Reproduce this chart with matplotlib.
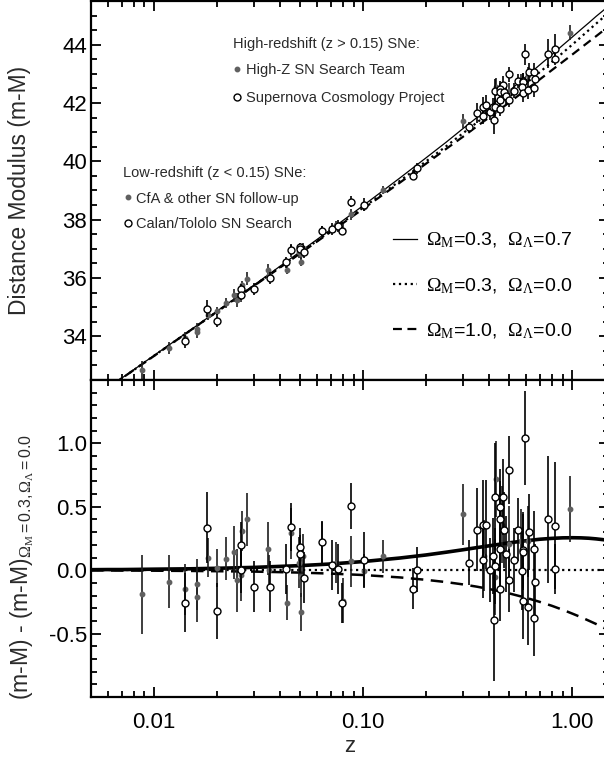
import matplotlib
matplotlib.use("Agg")
import matplotlib.pyplot as plt
from matplotlib.lines import Line2D
from matplotlib.ticker import MultipleLocator, LogLocator, NullFormatter

plt.rcParams.update({
    "font.family": ["Liberation Sans", "DejaVu Sans"],
    "mathtext.fontset": "custom",
    "mathtext.rm": "Liberation Serif",
    "mathtext.it": "Liberation Serif:italic",
    "mathtext.sf": "Liberation Sans",
    "axes.unicode_minus": False,
})

# model curves (H0 = 65)
zk = [0.005, 0.006, 0.007, 0.008, 0.01, 0.015, 0.02, 0.03, 0.05, 0.07, 0.1, 0.15, 0.2,
      0.25, 0.3, 0.35, 0.4, 0.5, 0.6, 0.7, 0.8, 0.9, 1.0, 1.1, 1.2, 1.3, 1.4, 1.5]
mu_lam = [31.82, 32.22, 32.56, 32.85, 33.34, 34.22, 34.86, 35.75, 36.90, 37.66, 38.48, 39.43, 40.12,
          40.66, 41.12, 41.50, 41.85, 42.42, 42.90, 43.31, 43.66, 43.98, 44.26, 44.52, 44.75, 44.97, 45.16, 45.35]
mu_opn = [31.82, 32.22, 32.55, 32.84, 33.33, 34.21, 34.84, 35.73, 36.86, 37.61, 38.41, 39.33, 40.00,
          40.52, 40.96, 41.33, 41.65, 42.21, 42.67, 43.06, 43.41, 43.72, 44.00, 44.26, 44.50, 44.72, 44.92, 45.12]
mu_eds = [31.82, 32.21, 32.55, 32.84, 33.32, 34.21, 34.84, 35.72, 36.84, 37.58, 38.37, 39.27, 39.92,
          40.43, 40.84, 41.20, 41.50, 42.02, 42.45, 42.81, 43.13, 43.41, 43.66, 43.89, 44.10, 44.29, 44.47, 44.64]
res_lam = [0.004, 0.005, 0.005, 0.006, 0.008, 0.011, 0.015, 0.022, 0.036, 0.049, 0.068, 0.096, 0.120,
           0.142, 0.161, 0.178, 0.192, 0.216, 0.232, 0.244, 0.251, 0.255, 0.256, 0.255, 0.252, 0.247, 0.241, 0.234]
res_eds = [-0.002, -0.002, -0.003, -0.003, -0.004, -0.006, -0.008, -0.011, -0.019, -0.027, -0.038, -0.057, -0.076,
           -0.094, -0.112, -0.130, -0.148, -0.183, -0.217, -0.250, -0.281, -0.312, -0.342, -0.370, -0.398, -0.424, -0.450, -0.475]

# low-redshift: CfA & other follow-up (filled)
cfa_z = [0.00873, 0.01176, 0.01408, 0.01607, 0.01607, 0.01808, 0.02003, 0.02205, 0.02416, 0.02484, 0.02625, 0.02611,
         0.02798, 0.03527, 0.03566, 0.04311, 0.04515, 0.04911, 0.05154, 0.05030, 0.05058, 0.06356, 0.07440, 0.07976,
         0.08750, 0.1010, 0.1245]
cfa_mu = [32.84, 33.59, 33.93, 34.25, 34.15, 34.72, 34.87, 35.15, 35.40, 35.24, 35.75, 35.39, 35.98, 36.26, 36.11,
          36.28, 36.92, 36.88, 37.04, 36.82, 36.56, 37.61, 37.80, 37.66, 38.18, 38.43, 39.02]
cfa_res = [-0.19, -0.09, -0.15, -0.11, -0.21, 0.10, 0.02, 0.09, 0.14, -0.08, 0.31, -0.04, 0.40, 0.17, 0.00, -0.255,
           0.29, 0.06, 0.115, -0.05, -0.33, 0.22, 0.06, -0.24, 0.07, -0.005, 0.11]
cfa_err = [0.31, 0.21, 0.20, 0.20, 0.20, 0.15, 0.15, 0.17, 0.21, 0.25, 0.16, 0.20, 0.21, 0.21, 0.12, 0.14, 0.20,
           0.20, 0.17, 0.16, 0.15, 0.16, 0.16, 0.18, 0.20, 0.13, 0.13]

# low-redshift: Calan/Tololo (open)
ct_z = [0.01408, 0.01800, 0.02003, 0.02602, 0.02602, 0.03012, 0.03594, 0.04287, 0.04515, 0.05019, 0.05019, 0.05228,
        0.06356, 0.07097, 0.07548, 0.07889, 0.08780, 0.1010, 0.1727, 0.1804]
ct_mu = [33.82, 34.95, 34.53, 35.62, 35.42, 35.61, 36.00, 36.53, 36.97, 37.05, 36.99, 36.90, 37.61, 37.68, 37.79,
         37.62, 38.62, 38.51, 39.51, 39.76]
ct_res = [-0.255, 0.334, -0.32, 0.20, 0.0, -0.13, -0.13, 0.01, 0.34, 0.185, 0.126, -0.06, 0.22, 0.04, 0.01, -0.26,
          0.505, 0.08, -0.145, 0.005]
ct_err = [0.23, 0.28, 0.22, 0.18, 0.18, 0.20, 0.20, 0.20, 0.19, 0.15, 0.15, 0.20, 0.17, 0.20, 0.20, 0.16, 0.18,
          0.22, 0.16, 0.18]

# high-redshift: High-Z SN Search Team (filled)
hz_z = [0.3003, 0.3777, 0.4306, 0.4259, 0.4642, 0.4976, 0.5661, 0.6164, 0.9717]
hz_mu = [41.40, 41.63, 42.55, 41.75, 42.38, 42.40, 42.75, 42.97, 44.41]
hz_res = [0.44, 0.115, 0.72, -0.055, 0.36, 0.21, 0.23, 0.23, 0.48]
hz_err = [0.24, 0.28, 0.30, 0.30, 0.30, 0.30, 0.25, 0.28, 0.26]

# high-redshift: Supernova Cosmology Project (open)
scp_z = [0.3215, 0.3523, 0.3736, 0.3879, 0.3736, 0.4036, 0.4190, 0.4296, 0.4296, 0.4657, 0.4540, 0.4540, 0.4709,
         0.4250, 0.4505, 0.4505, 0.4836, 0.4960, 0.4976, 0.5282, 0.5495, 0.5806, 0.5806, 0.5723, 0.5806, 0.5916,
         0.6231, 0.6164, 0.6555, 0.6605, 0.6555, 0.7625, 0.8299, 0.8299]
scp_mu = [41.18, 41.66, 41.85, 41.94, 41.57, 41.68, 41.88, 41.86, 42.41, 42.61, 42.47, 42.37, 42.38, 41.41, 42.11,
          41.80, 42.25, 42.11, 42.98, 42.42, 42.76, 42.74, 42.72, 42.54, 42.34, 43.67, 43.06, 42.45, 43.06, 42.82,
          42.51, 43.69, 43.86, 43.52]
scp_res = [0.06, 0.32, 0.36, 0.36, 0.08, 0.0, 0.11, 0.03, 0.58, 0.58, 0.50, 0.40, 0.32, -0.39, 0.165, -0.15, 0.13,
           -0.08, 0.79, 0.08, 0.32, 0.16, 0.14, -0.01, -0.24, 1.04, 0.30, -0.29, 0.17, -0.09, -0.38, 0.40, 0.35, 0.01]
scp_err = [0.18, 0.33, 0.35, 0.35, 0.30, 0.25, 0.30, 0.30, 0.42, 0.30, 0.30, 0.30, 0.30, 0.48, 0.30, 0.25, 0.30,
           0.25, 0.27, 0.25, 0.25, 0.30, 0.30, 0.30, 0.30, 0.37, 0.30, 0.30, 0.30, 0.30, 0.30, 0.50, 0.50, 0.20]

GRAY = "#606060"
TXT = "#2a2a2a"


def filled(ax, z, y, e):
    ax.errorbar(z, y, yerr=e, fmt="o", ms=3.2, mfc=GRAY, mec=GRAY, ecolor="#1e1e1e",
                elinewidth=1.2, capsize=0, zorder=3)


def hollow(ax, z, y, e):
    ax.errorbar(z, y, yerr=e, fmt="o", ms=5.0, mfc="white", mec="black", mew=1.0,
                ecolor="black", elinewidth=1.2, capsize=0, zorder=4)


fig = plt.figure(figsize=(6.04, 7.63), dpi=100)
ax1 = fig.add_axes([0.1507, 0.5020, 0.8576, 0.4967])
ax2 = fig.add_axes([0.1507, 0.0865, 0.8576, 0.4155], sharex=ax1)

# upper: Hubble diagram
l_lam, = ax1.plot(zk, mu_lam, "-", color="black", lw=0.9, zorder=2)
l_opn, = ax1.plot(zk, mu_opn, ":", color="black", lw=1.6, zorder=2)
l_eds, = ax1.plot(zk, mu_eds, "--", color="black", lw=1.6, dashes=(4, 2.5), zorder=2)
filled(ax1, cfa_z, cfa_mu, cfa_err)
hollow(ax1, ct_z, ct_mu, ct_err)
filled(ax1, hz_z, hz_mu, hz_err)
hollow(ax1, scp_z, scp_mu, scp_err)

# lower: residuals from the Omega_M=0.3, Omega_L=0 model
ax2.plot(zk, res_lam, "-", color="black", lw=2.6, zorder=2)
ax2.axhline(0.0, ls=":", color="black", lw=1.6, zorder=2)
ax2.plot(zk, res_eds, "--", color="black", lw=1.8, dashes=(5, 3), zorder=2)
filled(ax2, cfa_z, cfa_res, cfa_err)
hollow(ax2, ct_z, ct_res, ct_err)
filled(ax2, hz_z, hz_res, hz_err)
hollow(ax2, scp_z, scp_res, scp_err)

ax1.set_xscale("log")
ax1.set_xlim(0.005, 1.5)
ax1.set_ylim(32.5, 45.5)
ax2.set_ylim(-1.0, 1.5)

ax2.set_xticks([0.01, 0.1, 1.0])
ax2.set_xticklabels(["0.01", "0.10", "1.00"])
ax2.xaxis.set_minor_locator(LogLocator(base=10, subs=range(2, 10)))
ax2.xaxis.set_minor_formatter(NullFormatter())
ax1.yaxis.set_major_locator(MultipleLocator(2))
ax1.yaxis.set_minor_locator(MultipleLocator(0.5))
ax2.set_yticks([-0.5, 0.0, 0.5, 1.0])
ax2.set_yticklabels(["-0.5", "0.0", "0.5", "1.0"])
ax2.yaxis.set_minor_locator(MultipleLocator(0.1))

for ax in (ax1, ax2):
    ax.tick_params(which="both", direction="in", top=True, right=True, width=1.3,
                   labelsize=16, pad=3)
    ax.tick_params(which="major", length=7)
    ax.tick_params(which="minor", length=4)
    for s in ax.spines.values():
        s.set_linewidth(1.6)
ax1.tick_params(labelbottom=False)
ax2.tick_params(axis="x", pad=11)

ax1.set_ylabel("Distance Modulus (m-M)", fontsize=16.5, color=TXT)
ax1.yaxis.set_label_coords(-0.116, 0.50)
ax2.set_ylabel(r"(m-M) - (m-M)$_{\Omega_{\rm M}\mathsf{=0.3,}\Omega_\Lambda\mathsf{=0.0}}$",
               fontsize=16.5, color=TXT)
ax2.yaxis.set_label_coords(-0.107, 0.41)
ax2.set_xlabel("z", fontsize=16, color=TXT, labelpad=2)

# sample legends
h_dot = Line2D([], [], ls="none", marker="o", ms=3.2, mfc=GRAY, mec=GRAY)
h_ring = Line2D([], [], ls="none", marker="o", ms=5.0, mfc="white", mec="black", mew=1.0)
kw = dict(frameon=False, fontsize=10.5, title_fontsize=10.5, alignment="left", handlelength=0.6,
          handletextpad=0.3, borderpad=0, borderaxespad=0, loc="upper left")
leg_hi = ax1.legend([h_dot, h_ring], ["High-Z SN Search Team", "Supernova Cosmology Project"],
                    title="High-redshift (z > 0.15) SNe:", bbox_to_anchor=(0.274, 0.905),
                    labelspacing=0.92, **kw)
leg_hi._legend_box.sep = 9
ax1.add_artist(leg_hi)
leg_lo = ax1.legend([h_dot, h_ring], ["CfA & other SN follow-up", "Calan/Tololo SN Search"],
                    title="Low-redshift (z < 0.15) SNe:", bbox_to_anchor=(0.062, 0.565),
                    labelspacing=0.8, **kw)
ax1.add_artist(leg_lo)
for lg in (leg_hi, leg_lo):
    lg.get_title().set_color(TXT)
    for t in lg.get_texts():
        t.set_color(TXT)

ax1.legend([l_lam, l_opn, l_eds],
           [r"$\Omega_{\rm M}$=0.3,  $\Omega_\Lambda$=0.7",
            r"$\Omega_{\rm M}$=0.3,  $\Omega_\Lambda$=0.0",
            r"$\Omega_{\rm M}$=1.0,  $\Omega_\Lambda$=0.0"],
           loc="upper left", bbox_to_anchor=(0.583, 0.393), frameon=False, fontsize=14,
           handlelength=1.25, handletextpad=0.45, labelspacing=1.33, borderpad=0, borderaxespad=0)

fig.savefig("out.png", dpi=100)
